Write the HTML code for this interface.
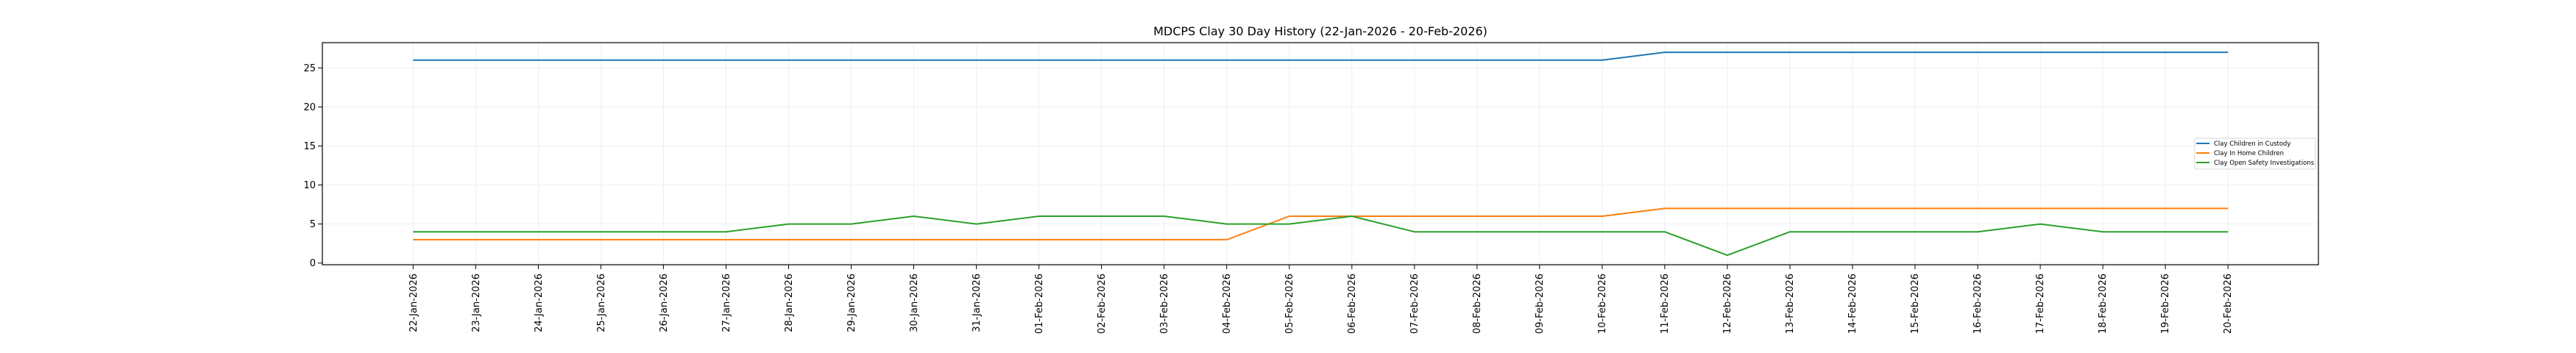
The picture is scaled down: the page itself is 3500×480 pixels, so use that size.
<!DOCTYPE html>
<html><head><meta charset="utf-8"><style>
html,body{margin:0;padding:0;background:#fff;}
svg{display:block;font-family:"DejaVu Sans","Liberation Sans",sans-serif;}
</style></head><body>
<svg width="3500" height="480" viewBox="0 0 3500 480" xmlns="http://www.w3.org/2000/svg">
<rect width="3500" height="480" fill="#fff"/>
<text x="1794" y="48" font-size="16" text-anchor="middle">MDCPS Clay 30 Day History (22-Jan-2026 - 20-Feb-2026)</text>
<g stroke="#ebebeb" stroke-width="0.8">
<line x1="438" x2="3150" y1="357.7" y2="357.7"/><line x1="438" x2="3150" y1="304.6" y2="304.6"/><line x1="438" x2="3150" y1="251.5" y2="251.5"/><line x1="438" x2="3150" y1="198.5" y2="198.5"/><line x1="438" x2="3150" y1="145.4" y2="145.4"/><line x1="438" x2="3150" y1="92.3" y2="92.3"/>
<line x1="561.3" x2="561.3" y1="58" y2="360"/><line x1="646.3" x2="646.3" y1="58" y2="360"/><line x1="731.4" x2="731.4" y1="58" y2="360"/><line x1="816.4" x2="816.4" y1="58" y2="360"/><line x1="901.4" x2="901.4" y1="58" y2="360"/><line x1="986.5" x2="986.5" y1="58" y2="360"/><line x1="1071.5" x2="1071.5" y1="58" y2="360"/><line x1="1156.5" x2="1156.5" y1="58" y2="360"/><line x1="1241.5" x2="1241.5" y1="58" y2="360"/><line x1="1326.6" x2="1326.6" y1="58" y2="360"/><line x1="1411.6" x2="1411.6" y1="58" y2="360"/><line x1="1496.6" x2="1496.6" y1="58" y2="360"/><line x1="1581.7" x2="1581.7" y1="58" y2="360"/><line x1="1666.7" x2="1666.7" y1="58" y2="360"/><line x1="1751.7" x2="1751.7" y1="58" y2="360"/><line x1="1836.8" x2="1836.8" y1="58" y2="360"/><line x1="1921.8" x2="1921.8" y1="58" y2="360"/><line x1="2006.8" x2="2006.8" y1="58" y2="360"/><line x1="2091.8" x2="2091.8" y1="58" y2="360"/><line x1="2176.9" x2="2176.9" y1="58" y2="360"/><line x1="2261.9" x2="2261.9" y1="58" y2="360"/><line x1="2346.9" x2="2346.9" y1="58" y2="360"/><line x1="2432" x2="2432" y1="58" y2="360"/><line x1="2517" x2="2517" y1="58" y2="360"/><line x1="2602" x2="2602" y1="58" y2="360"/><line x1="2687.1" x2="2687.1" y1="58" y2="360"/><line x1="2772.1" x2="2772.1" y1="58" y2="360"/><line x1="2857.1" x2="2857.1" y1="58" y2="360"/><line x1="2942.1" x2="2942.1" y1="58" y2="360"/><line x1="3027.2" x2="3027.2" y1="58" y2="360"/>
</g>
<g fill="none" stroke-width="2" stroke-linejoin="round">
<polyline stroke="#1f77b4" points="561.3,81.7 2176.9,81.7 2261.9,71.1 3027.2,71.1"/>
<polyline stroke="#ff7f0e" points="561.3,325.9 1666.7,325.9 1751.7,294 2176.9,294 2261.9,283.4 3027.2,283.4"/>
<polyline stroke="#2ca02c" points="561.3,315.2 986.5,315.2 1071.5,304.6 1156.5,304.6 1241.5,294 1326.6,304.6 1411.6,294 1581.7,294 1666.7,304.6 1751.7,304.6 1836.8,294 1921.8,315.2 2261.9,315.2 2346.9,347.1 2432,315.2 2687.1,315.2 2772.1,304.6 2857.1,315.2 3027.2,315.2"/>
</g>
<rect x="438" y="58" width="2712" height="302" fill="none" stroke="#000" stroke-width="1.2"/>
<g stroke="#000" stroke-width="1">
<line x1="432" x2="438" y1="357.7" y2="357.7"/><line x1="432" x2="438" y1="304.6" y2="304.6"/><line x1="432" x2="438" y1="251.5" y2="251.5"/><line x1="432" x2="438" y1="198.5" y2="198.5"/><line x1="432" x2="438" y1="145.4" y2="145.4"/><line x1="432" x2="438" y1="92.3" y2="92.3"/>
</g>
<g font-size="13" text-anchor="end">
<text x="429" y="362">0</text><text x="429" y="309">5</text><text x="429" y="256">10</text><text x="429" y="203">15</text><text x="429" y="150">20</text><text x="429" y="97">25</text>
</g>
<g font-size="13" text-anchor="end">
<text transform="translate(566,372) rotate(-90)">22-Jan-2026</text>
<text transform="translate(651,372) rotate(-90)">23-Jan-2026</text>
<text transform="translate(736,372) rotate(-90)">24-Jan-2026</text>
<text transform="translate(821,372) rotate(-90)">25-Jan-2026</text>
<text transform="translate(906,372) rotate(-90)">26-Jan-2026</text>
<text transform="translate(991,372) rotate(-90)">27-Jan-2026</text>
<text transform="translate(1076,372) rotate(-90)">28-Jan-2026</text>
<text transform="translate(1161,372) rotate(-90)">29-Jan-2026</text>
<text transform="translate(1246,372) rotate(-90)">30-Jan-2026</text>
<text transform="translate(1331,372) rotate(-90)">31-Jan-2026</text>
<text transform="translate(1416,372) rotate(-90)">01-Feb-2026</text>
<text transform="translate(1501,372) rotate(-90)">02-Feb-2026</text>
<text transform="translate(1586,372) rotate(-90)">03-Feb-2026</text>
<text transform="translate(1671,372) rotate(-90)">04-Feb-2026</text>
<text transform="translate(1756,372) rotate(-90)">05-Feb-2026</text>
<text transform="translate(1841,372) rotate(-90)">06-Feb-2026</text>
<text transform="translate(1926,372) rotate(-90)">07-Feb-2026</text>
<text transform="translate(2011,372) rotate(-90)">08-Feb-2026</text>
<text transform="translate(2096,372) rotate(-90)">09-Feb-2026</text>
<text transform="translate(2181,372) rotate(-90)">10-Feb-2026</text>
<text transform="translate(2266,372) rotate(-90)">11-Feb-2026</text>
<text transform="translate(2351,372) rotate(-90)">12-Feb-2026</text>
<text transform="translate(2436,372) rotate(-90)">13-Feb-2026</text>
<text transform="translate(2521,372) rotate(-90)">14-Feb-2026</text>
<text transform="translate(2606,372) rotate(-90)">15-Feb-2026</text>
<text transform="translate(2691,372) rotate(-90)">16-Feb-2026</text>
<text transform="translate(2776,372) rotate(-90)">17-Feb-2026</text>
<text transform="translate(2861,372) rotate(-90)">18-Feb-2026</text>
<text transform="translate(2946,372) rotate(-90)">19-Feb-2026</text>
<text transform="translate(3031,372) rotate(-90)">20-Feb-2026</text>
</g>
<g stroke="#000" stroke-width="1">
<line y1="360" y2="366" x1="561.3" x2="561.3"/><line y1="360" y2="366" x1="646.3" x2="646.3"/><line y1="360" y2="366" x1="731.4" x2="731.4"/><line y1="360" y2="366" x1="816.4" x2="816.4"/><line y1="360" y2="366" x1="901.4" x2="901.4"/><line y1="360" y2="366" x1="986.5" x2="986.5"/><line y1="360" y2="366" x1="1071.5" x2="1071.5"/><line y1="360" y2="366" x1="1156.5" x2="1156.5"/><line y1="360" y2="366" x1="1241.5" x2="1241.5"/><line y1="360" y2="366" x1="1326.6" x2="1326.6"/><line y1="360" y2="366" x1="1411.6" x2="1411.6"/><line y1="360" y2="366" x1="1496.6" x2="1496.6"/><line y1="360" y2="366" x1="1581.7" x2="1581.7"/><line y1="360" y2="366" x1="1666.7" x2="1666.7"/><line y1="360" y2="366" x1="1751.7" x2="1751.7"/><line y1="360" y2="366" x1="1836.8" x2="1836.8"/><line y1="360" y2="366" x1="1921.8" x2="1921.8"/><line y1="360" y2="366" x1="2006.8" x2="2006.8"/><line y1="360" y2="366" x1="2091.8" x2="2091.8"/><line y1="360" y2="366" x1="2176.9" x2="2176.9"/><line y1="360" y2="366" x1="2261.9" x2="2261.9"/><line y1="360" y2="366" x1="2346.9" x2="2346.9"/><line y1="360" y2="366" x1="2432" x2="2432"/><line y1="360" y2="366" x1="2517" x2="2517"/><line y1="360" y2="366" x1="2602" x2="2602"/><line y1="360" y2="366" x1="2687.1" x2="2687.1"/><line y1="360" y2="366" x1="2772.1" x2="2772.1"/><line y1="360" y2="366" x1="2857.1" x2="2857.1"/><line y1="360" y2="366" x1="2942.1" x2="2942.1"/><line y1="360" y2="366" x1="3027.2" x2="3027.2"/>
</g>
<rect x="2982" y="188" width="164" height="42" fill="#fff" fill-opacity="0.85" stroke="#ccc" stroke-width="0.8" rx="2"/>
<g stroke-width="2">
<line x1="2984" x2="3002" y1="195" y2="195" stroke="#1f77b4"/>
<line x1="2984" x2="3002" y1="208" y2="208" stroke="#ff7f0e"/>
<line x1="2984" x2="3002" y1="221" y2="221" stroke="#2ca02c"/>
</g>
<g font-size="8.5">
<text x="3008" y="198">Clay Children in Custody</text>
<text x="3008" y="211">Clay In Home Children</text>
<text x="3008" y="224">Clay Open Safety Investigations</text>
</g>
</svg>
</body></html>
